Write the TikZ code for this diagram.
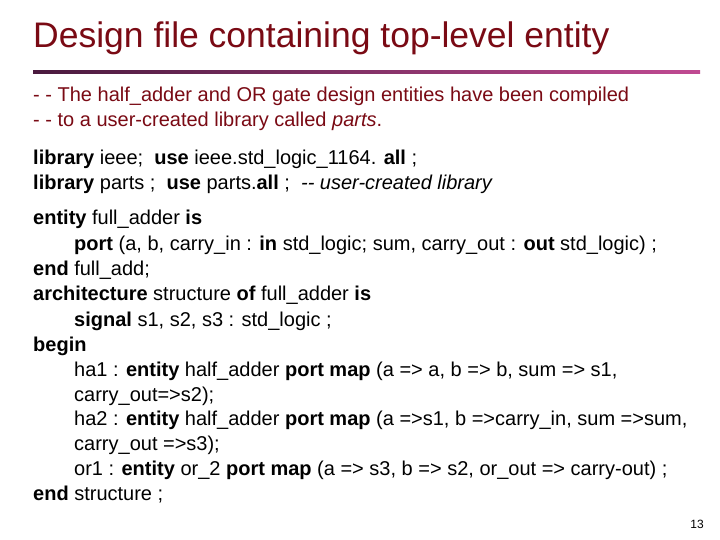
\documentclass[tikz,border=0pt]{standalone}
\usepackage{fontspec}
\setmainfont{Liberation Sans}
\definecolor{tred}{HTML}{7A0A14}
\definecolor{lA}{HTML}{4A1A3E}
\definecolor{lB}{HTML}{C04A92}
\begin{document}
\begin{tikzpicture}[x=1pt,y=-1pt,
  ln/.style={anchor=base west,inner sep=0pt,font=\fontsize{20}{22}\selectfont}]
\useasboundingbox[fill=white] (0,0) rectangle (720,540);
\node[anchor=base west,inner sep=0pt,text=tred,font=\fontsize{35.5}{40}\selectfont] (title) at (33,48) {Design file containing top-level entity};
\shade[left color=lA,right color=lB] (33,71) rectangle (700,74);
\node[ln,text=tred] (c1) at (33,102) {- - The half\_adder and OR gate design entities have been compiled};
\node[ln,text=tred] (c2) at (33,127) {- - to a user-created library called \textit{parts}.};
\node[ln] (l1) at (33,165) {\textbf{library} ieee;\ \ \textbf{use} ieee.std\_logic\_1164. \textbf{all} ;};
\node[ln] (l2) at (33,190) {\textbf{library} parts ;\ \ \textbf{use} parts.\textbf{all} ;\ \ \textit{-{}- user-created library}};
\node[ln] (l3) at (33,225) {\textbf{entity} full\_adder \textbf{is}};
\node[ln] (l4) at (74,250) {\textbf{port} (a, b, carry\_in : \textbf{in} std\_logic; sum, carry\_out : \textbf{out} std\_logic) ;};
\node[ln] (l5) at (33,275) {\textbf{end} full\_add;};
\node[ln] (l6) at (33,300) {\textbf{architecture} structure \textbf{of} full\_adder \textbf{is}};
\node[ln] (l7) at (74,326) {\textbf{signal} s1, s2, s3 : std\_logic ;};
\node[ln] (l8) at (33,351) {\textbf{begin}};
\node[ln] (l9) at (74,376) {ha1 : \textbf{entity} half\_adder \textbf{port map} (a => a, b => b, sum => s1,};
\node[ln] (l10) at (74,401) {carry\_out=>s2);};
\node[ln] (l11) at (74,425) {ha2 : \textbf{entity} half\_adder \textbf{port map} (a =>s1, b =>carry\_in, sum =>sum,};
\node[ln] (l12) at (74,450) {carry\_out =>s3);};
\node[ln] (l13) at (74,475) {or1 : \textbf{entity} or\_2 \textbf{port map} (a => s3, b => s2, or\_out => carry-out) ;};
\node[ln] (l14) at (33,500) {\textbf{end} structure ;};
\node[anchor=base east,inner sep=0pt,font=\fontsize{12}{14}\selectfont] (pg) at (704,528) {13};
\end{tikzpicture}
\end{document}
